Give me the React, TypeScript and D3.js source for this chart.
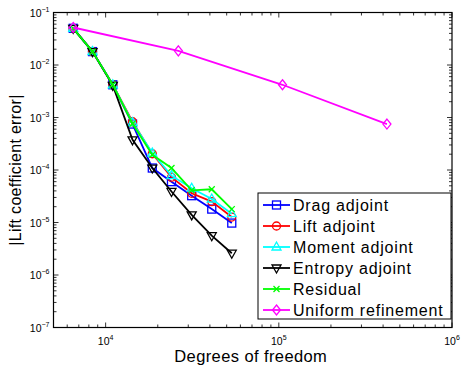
import * as d3 from "d3";

const WIDTH = 462;
const HEIGHT = 365;
const MARGIN = { top: 12.5, right: 10, bottom: 37.5, left: 53.5 };

// adaptive runs share (roughly) the same dof counts
const dofs = [6500, 8400, 11000, 14300, 18600, 24000, 31400, 41000, 53500];
const dragErr = [0.05, 0.018, 0.0042, 0.00075, 0.000109, 0.00006, 0.0000324, 0.000018, 0.00000975];
const liftErr = [0.05, 0.018, 0.0042, 0.00083, 0.000204, 0.000073, 0.000036, 0.000025, 0.0000127];
const momentErr = [0.05, 0.018, 0.0042, 0.0008, 0.00021, 0.000078, 0.000045, 0.000028, 0.0000147];
const entropyErr = [0.05, 0.018, 0.0041, 0.000376, 0.000109, 0.000039, 0.000014, 0.0000056, 0.0000026];
const residualErr = [0.05, 0.018, 0.0042, 0.00076, 0.000195, 0.000109, 0.000041, 0.000043, 0.000018];
const uniformDofs = [6500, 26300, 105000, 421000];
const uniformErr = [0.0518, 0.0186, 0.0042, 0.00075];

const xTicks = [1e4, 1e5, 1e6];
const yTicks = [1e-7, 1e-6, 1e-5, 1e-4, 1e-3, 1e-2, 1e-1];

type MarkerKind = "square" | "circle" | "triUp" | "triDown" | "cross" | "diamond";

const series: { name: string; color: string; marker: MarkerKind; x: number[]; y: number[] }[] = [
  { name: "Drag adjoint", color: "#0000ff", marker: "square", x: dofs, y: dragErr },
  { name: "Lift adjoint", color: "#ff0000", marker: "circle", x: dofs, y: liftErr },
  { name: "Moment adjoint", color: "#00ffff", marker: "triUp", x: dofs, y: momentErr },
  { name: "Entropy adjoint", color: "#000000", marker: "triDown", x: dofs, y: entropyErr },
  { name: "Residual", color: "#00ff00", marker: "cross", x: dofs, y: residualErr },
  { name: "Uniform refinement", color: "#ff00ff", marker: "diamond", x: uniformDofs, y: uniformErr },
];

function Marker({ kind, x, y, color }: { kind: MarkerKind; x: number; y: number; color: string }) {
  const s = 4;
  const common = { fill: "none", stroke: color, strokeWidth: 1.3 };
  switch (kind) {
    case "square":
      return <rect x={x - s} y={y - s} width={2 * s} height={2 * s} {...common} />;
    case "circle":
      return <circle cx={x} cy={y} r={s} {...common} />;
    case "triUp":
      return <path d={`M${x},${y - s - 1}L${x + s + 0.5},${y + s - 1}L${x - s - 0.5},${y + s - 1}Z`} {...common} />;
    case "triDown":
      return <path d={`M${x},${y + s + 1}L${x + s + 0.5},${y - s + 1}L${x - s - 0.5},${y - s + 1}Z`} {...common} />;
    case "cross":
      return <path d={`M${x - 3},${y - 3}L${x + 3},${y + 3}M${x - 3},${y + 3}L${x + 3},${y - 3}`} {...common} />;
    case "diamond":
      return <path d={`M${x},${y - s - 1}L${x + s},${y}L${x},${y + s + 1}L${x - s},${y}Z`} {...common} />;
  }
}

function minorTicks(lo: number, hi: number) {
  const out: number[] = [];
  for (let e = Math.floor(Math.log10(lo)); e <= Math.ceil(Math.log10(hi)); e++) {
    for (let m = 1; m < 10; m++) {
      const v = m * Math.pow(10, e);
      if (v >= lo * 0.999 && v <= hi * 1.001) out.push(v);
    }
  }
  return out;
}

export default function App() {
  const boundsWidth = WIDTH - MARGIN.left - MARGIN.right;
  const boundsHeight = HEIGHT - MARGIN.top - MARGIN.bottom;

  const xScale = d3.scaleLog().domain([5000, 1e6]).range([0, boundsWidth]);
  const yScale = d3.scaleLog().domain([1e-7, 1e-1]).range([boundsHeight, 0]);

  const line = d3
    .line<[number, number]>()
    .x((d) => xScale(d[0]))
    .y((d) => yScale(d[1]));

  const xMinor = minorTicks(5000, 1e6);
  const yMinor = minorTicks(1e-7, 1e-1);

  const font = "Liberation Sans, Arial, sans-serif";

  return (
    <svg width={WIDTH} height={HEIGHT} style={{ position: "absolute", left: 0, top: 0 }} fontFamily={font}>
      <rect width={WIDTH} height={HEIGHT} fill="#fff" />
      <g transform={`translate(${MARGIN.left},${MARGIN.top})`}>
        {/* ticks on all four sides, pointing inward */}
        {xMinor.map((v, i) => {
          const major = xTicks.includes(v);
          const len = major ? 5 : 3;
          return (
            <g key={"xt" + i} stroke="#000" strokeWidth={0.8}>
              <line x1={xScale(v)} x2={xScale(v)} y1={boundsHeight} y2={boundsHeight - len} />
              <line x1={xScale(v)} x2={xScale(v)} y1={0} y2={len} />
            </g>
          );
        })}
        {yMinor.map((v, i) => {
          const major = yTicks.some((t) => Math.abs(t - v) / t < 1e-6);
          const len = major ? 5 : 3;
          return (
            <g key={"yt" + i} stroke="#000" strokeWidth={0.8}>
              <line x1={0} x2={len} y1={yScale(v)} y2={yScale(v)} />
              <line x1={boundsWidth} x2={boundsWidth - len} y1={yScale(v)} y2={yScale(v)} />
            </g>
          );
        })}

        {series.map((s) => {
          const pts = s.x.map((x, i) => [x, s.y[i]] as [number, number]);
          return (
            <g key={s.name}>
              <path d={line(pts) ?? ""} fill="none" stroke={s.color} strokeWidth={1.8} />
              {pts.map((p, i) => (
                <Marker key={i} kind={s.marker} x={xScale(p[0])} y={yScale(p[1])} color={s.color} />
              ))}
            </g>
          );
        })}

        <rect x={0} y={0} width={boundsWidth} height={boundsHeight} fill="none" stroke="#000" strokeWidth={1.2} />

        {xTicks.map((v) => (
          <text key={"xl" + v} x={xScale(v)} y={boundsHeight + 17} textAnchor="middle" fontSize={10.5}>
            10
            <tspan fontSize={7} dy={-5}>
              {Math.round(Math.log10(v))}
            </tspan>
          </text>
        ))}
        {yTicks.map((v) => (
          <text key={"yl" + v} x={-4} y={yScale(v) + 4} textAnchor="end" fontSize={10.5}>
            10
            <tspan fontSize={7} dy={-5}>
              {"\u2212" + Math.abs(Math.round(Math.log10(v)))}
            </tspan>
          </text>
        ))}

        <text x={boundsWidth / 2 - 2} y={boundsHeight + 34} textAnchor="middle" fontSize={16.5} letterSpacing={0.4}>
          Degrees of freedom
        </text>
        <text
          transform={`translate(${-33},${boundsHeight / 2}) rotate(-90)`}
          textAnchor="middle"
          fontSize={16}
          letterSpacing={0.3}
        >
          |Lift coefficient error|
        </text>
      </g>

      <g transform="translate(258,193)">
        <rect x={0} y={0} width={193} height={126} fill="#fff" stroke="#000" strokeWidth={1} />
        {series.map((s, i) => {
          const cy = 12 + i * 21;
          return (
            <g key={"lg" + s.name}>
              <line x1={5} x2={32} y1={cy} y2={cy} stroke={s.color} strokeWidth={1.8} />
              <Marker kind={s.marker} x={18.5} y={cy} color={s.color} />
              <text x={35} y={cy + 6} fontSize={16} letterSpacing={0.8}>
                {s.name}
              </text>
            </g>
          );
        })}
      </g>
    </svg>
  );
}
